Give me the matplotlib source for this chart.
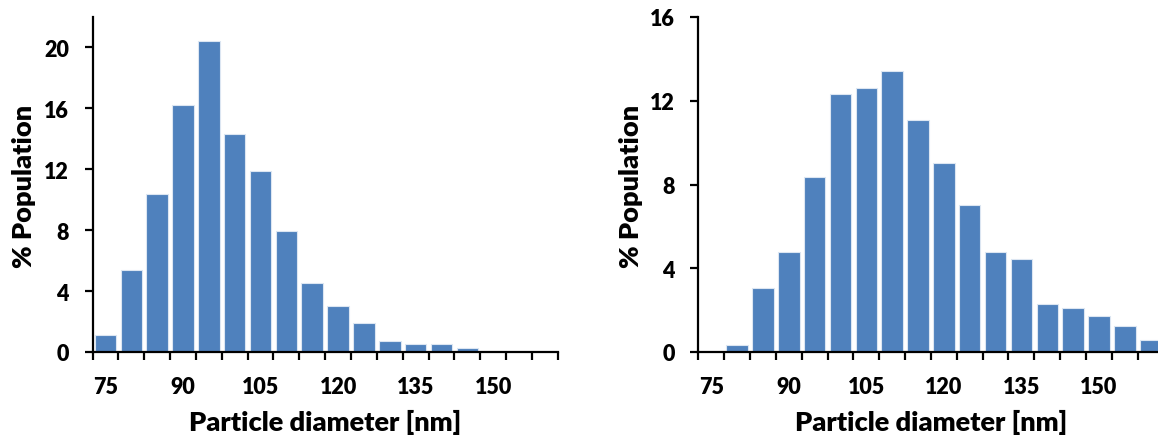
import numpy as np
import matplotlib
matplotlib.use('Agg')
import matplotlib.pyplot as plt

plt.rcParams['font.family'] = ['Lato', 'DejaVu Sans']
plt.rcParams['font.weight'] = 'bold'

# particle size bins [nm], 5 nm wide
diameters = [75, 80, 85, 90, 95, 100, 105, 110, 115, 120, 125, 130, 135, 140, 145, 150, 155, 160]
tick_labels = ['75', '90', '105', '120', '135', '150']

# % population per bin, left and right sample
pop_left = [1.1, 5.4, 10.4, 16.2, 20.4, 14.3, 11.9, 7.95, 4.5, 3.0, 1.9, 0.7, 0.5, 0.5, 0.28, 0, 0, 0]
pop_right = [0, 0.32, 3.05, 4.8, 8.35, 12.3, 12.6, 13.4, 11.1, 9.05, 7.0, 4.8, 4.45, 2.3, 2.1, 1.73, 1.22, 0.56]

W, H = 1158, 439
fig = plt.figure(figsize=(W / 100, H / 100), dpi=100)

step = 25.85
ax1 = fig.add_axes([92.5 / W, 86 / H, 18 * step / W, 335 / H])
ax2 = fig.add_axes([698.3 / W, 86 / H, 18 * step / W, 335 / H])


def style(ax, values, ymax):
    x = np.arange(len(diameters))
    ax.bar(x, values, width=0.83, color='#4F81BD', edgecolor='#DCE6F2', linewidth=0.8)
    ax.set_xlim(-0.5, len(diameters) - 0.5)
    ax.set_ylim(0, ymax)
    for s in ['top', 'right']:
        ax.spines[s].set_visible(False)
    for s in ['left', 'bottom']:
        ax.spines[s].set_linewidth(1.6)
    ax.set_xticks(np.arange(-0.5, len(diameters), 1.0))
    ax.set_xticklabels([])
    ax.set_xticks(np.arange(0, len(diameters), 3), minor=True)
    ax.set_xticklabels(tick_labels, minor=True)
    ax.tick_params(axis='x', which='major', length=6, width=1.6, direction='out')
    ax.tick_params(axis='x', which='minor', length=0, pad=17, labelsize=15.5)
    ax.set_yticks(np.arange(0, ymax + 0.1, 4))
    ax.tick_params(axis='y', length=6, width=1.6, direction='out', pad=11, labelsize=15.5)
    for lab in ax.get_xticklabels(minor=True) + ax.get_yticklabels():
        lab.set_fontweight('heavy')


style(ax1, pop_left, 22)
style(ax2, pop_right, 16)

fig.text(23.5 / W, 1 - 186 / H, '% Population', rotation=90, ha='center', va='center',
         fontsize=19.5, fontweight='heavy')
fig.text(631 / W, 1 - 186 / H, '% Population', rotation=90, ha='center', va='center',
         fontsize=19.5, fontweight='heavy')
fig.text(325 / W, 1 - 422 / H, 'Particle diameter [nm]', ha='center', va='center',
         fontsize=19.5, fontweight='heavy')
fig.text(931 / W, 1 - 422 / H, 'Particle diameter [nm]', ha='center', va='center',
         fontsize=19.5, fontweight='heavy')

fig.savefig('out.png', dpi=100)
